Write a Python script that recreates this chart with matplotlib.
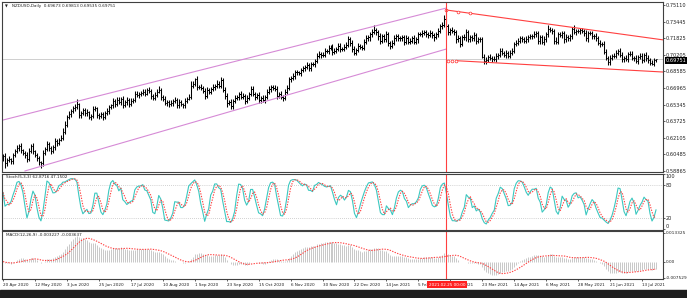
import numpy as np
import pandas as pd
import matplotlib
matplotlib.use("Agg")
import matplotlib.pyplot as plt
from matplotlib.patches import Rectangle

# daily closes, NZDUSD, in pips (x 1e-4), 20 Apr 2020 .. 22 Jul 2021
closes = [
    6030, 5960, 5990, 6000, 5980,
    6040, 6080, 6110, 6130, 6090,
    6060, 6040, 6000, 6080, 6130,
    6080, 6040, 6010, 5970, 5960,
    6060, 6100, 6150, 6110, 6080,
    6120, 6180, 6160, 6190, 6210,
    6270, 6340, 6410, 6440, 6470,
    6500, 6510, 6540, 6430, 6450,
    6480, 6450, 6460, 6410, 6420,
    6490, 6500, 6430, 6420, 6440,
    6410, 6450, 6470, 6510, 6530,
    6570, 6540, 6580, 6560, 6590,
    6530, 6560, 6580, 6540, 6570,
    6580, 6640, 6630, 6640, 6650,
    6660, 6640, 6680, 6670, 6620,
    6600, 6630, 6660, 6680, 6610,
    6590, 6550, 6560, 6540, 6550,
    6570, 6580, 6530, 6560, 6540,
    6530, 6570, 6590, 6610, 6720,
    6740, 6780, 6710, 6710, 6700,
    6670, 6620, 6680, 6660, 6690,
    6710, 6720, 6740, 6720, 6770,
    6680, 6620, 6550, 6560, 6520,
    6570, 6600, 6610, 6640, 6610,
    6620, 6570, 6600, 6640, 6690,
    6640, 6610, 6630, 6580, 6600,
    6580, 6610, 6660, 6690, 6710,
    6700, 6690, 6620, 6640, 6610,
    6600, 6660, 6700, 6780, 6790,
    6810, 6850, 6850, 6840, 6870,
    6890, 6900, 6920, 6890, 6930,
    6930, 6960, 7010, 7030, 7020,
    7020, 7060, 7060, 7090, 7100,
    7050, 7060, 7080, 7110, 7080,
    7080, 7100, 7120, 7170, 7140,
    7080, 7040, 7070, 7110, 7100,
    7090, 7150, 7180, 7190,
    7220, 7240, 7260, 7240, 7200,
    7160, 7200, 7170, 7220, 7140,
    7110, 7140, 7180, 7200, 7180,
    7180, 7190, 7150, 7180, 7150,
    7160, 7180, 7150, 7170, 7220,
    7220, 7230, 7240, 7220, 7210,
    7230, 7210, 7190, 7220, 7250,
    7300, 7310, 7370, 7300, 7240,
    7260, 7250, 7240, 7170, 7180,
    7130, 7190, 7190, 7240, 7170,
    7190, 7180, 7210, 7160, 7170,
    7170, 7000, 6960, 6970, 7000,
    6990, 6980, 6980, 7010, 7020,
    7060, 7040, 7020, 7040, 7010,
    7040, 7060, 7130, 7140, 7160,
    7180, 7170, 7160, 7170, 7190,
    7200, 7200, 7220, 7230, 7160,
    7190, 7150, 7170, 7220, 7270,
    7260, 7250, 7160, 7150, 7220,
    7210, 7230, 7170, 7190, 7180,
    7200, 7270, 7240, 7250, 7250,
    7260, 7250, 7230, 7180, 7230,
    7230, 7200, 7200, 7180, 7140,
    7130, 7130, 7050, 6990, 6950,
    6990, 7010, 7010, 7040, 7060,
    7020, 6980, 6990, 6980, 7030,
    7030, 6990, 6990, 6960, 7000,
    7010, 6970, 7020, 6990, 6970,
    6940, 6930, 6967, 6975,
]
first_open = 6000

# wicks above / below the body, pips
hi_wick = [
    25, 30, 20, 35, 15, 20, 25, 30, 20, 25, 15, 20, 30, 35, 20, 25, 15, 20, 25, 10,
    30, 20, 25, 15, 20, 25, 30, 15, 20, 25, 35, 30, 25, 30, 20, 25, 30, 45, 15, 20,
    25, 20, 30, 15, 25, 30, 20, 15, 20, 25, 20, 25, 30, 20, 15, 25, 20, 30, 25, 20,
    30, 15, 25, 20, 25, 20, 30, 25, 15, 20, 25, 30, 20, 25, 15, 20, 25, 30, 35, 15,
    20, 25, 15, 20, 25, 20, 30, 15, 25, 20, 15, 25, 20, 30, 40, 25, 18, 30, 20, 25,
    20, 30, 25, 20, 15, 25, 20, 30, 25, 30, 20, 25, 30, 20, 25, 20, 25, 15, 20, 25,
    30, 20, 25, 20, 30, 25, 20, 15, 25, 20, 25, 20, 30, 25, 20, 15, 25, 30, 20, 25,
    20, 25, 30, 20, 25, 30, 20, 25, 15, 20, 25, 20, 30, 25, 20, 25, 20, 30, 25, 20,
    25, 30, 20, 25, 20, 30, 25, 20, 30, 25, 20, 25, 30, 35, 20, 25, 30, 20, 25, 15,
    20, 25, 30, 20, 25, 30, 55, 25, 20, 30, 25, 20, 30, 25, 20, 25, 30, 20, 25, 20,
    25, 20, 30, 25, 20, 25, 30, 20, 25, 20, 30, 25, 20, 25, 30, 20, 25, 20, 30, 25,
    30, 40, 95, 20, 25, 30, 20, 25, 30, 20, 25, 30, 35, 20, 25, 20, 30, 25, 20, 25,
    20, 25, 30, 20, 25, 20, 25, 30, 20, 25, 30, 20, 25, 20, 25, 30, 20, 25, 20, 25,
    20, 25, 30, 20, 25, 20, 30, 25, 20, 25, 20, 30, 25, 40, 25, 20, 25, 30, 20, 25,
    20, 25, 30, 20, 25, 20, 46, 25, 20, 25, 20, 25, 30, 20, 25, 20, 25, 30, 20, 25,
    20, 25, 30, 20, 25, 20, 30, 25, 20, 25, 30, 20, 25, 20, 25, 30, 20, 25, 20, 30,
    25, 20, 30, 25, 20, 25, 20, 6,
]
lo_wick = [
    20, 40, 25, 20, 30, 25, 20, 15, 25, 30, 20, 25, 30, 20, 15, 25, 20, 30, 25, 40,
    25, 20, 15, 25, 30, 20, 25, 30, 20, 15, 20, 25, 20, 15, 25, 20, 30, 20, 25, 30,
    20, 25, 30, 20, 25, 20, 15, 30, 25, 20, 25, 20, 15, 25, 20, 30, 25, 20, 15, 25,
    25, 20, 30, 25, 20, 15, 20, 25, 30, 20, 25, 20, 15, 25, 30, 20, 25, 20, 15, 30,
    25, 20, 30, 25, 20, 25, 20, 30, 25, 20, 25, 30, 20, 15, 20, 25, 20, 30, 25, 20,
    25, 30, 20, 25, 20, 25, 30, 20, 25, 20, 25, 30, 35, 20, 30, 25, 20, 25, 30, 20,
    25, 30, 20, 25, 20, 25, 30, 20, 30, 25, 20, 25, 20, 25, 30, 20, 25, 30, 20, 25,
    30, 20, 25, 20, 25, 20, 30, 25, 20, 25, 20, 25, 20, 30, 25, 20, 25, 20, 25, 30,
    25, 20, 25, 30, 20, 35, 25, 20, 25, 30, 25, 20, 25, 20, 30, 35, 25, 20, 25, 20,
    25, 20, 25, 20, 30, 25, 20, 25, 35, 30, 25, 20, 25, 30, 35, 25, 20, 25, 20, 25,
    25, 30, 20, 25, 20, 25, 20, 25, 30, 20, 25, 20, 25, 30, 20, 25, 30, 20, 25, 20,
    25, 20, 10, 30, 25, 20, 25, 30, 25, 30, 20, 25, 30, 20, 25, 20, 25, 30, 20, 25,
    10, 30, 25, 20, 25, 30, 20, 25, 30, 20, 25, 20, 30, 25, 20, 25, 20, 25, 20, 25,
    20, 25, 20, 25, 20, 25, 20, 25, 30, 35, 25, 30, 20, 25, 20, 25, 30, 20, 25, 20,
    25, 30, 20, 25, 20, 25, 20, 25, 20, 25, 20, 25, 20, 30, 20, 25, 30, 20, 25, 30,
    25, 20, 25, 27, 25, 25, 20, 25, 20, 25, 30, 25, 20, 25, 20, 25, 30, 20, 25, 20,
    25, 20, 30, 25, 20, 8, 20, 14,
]

# right axis labels
price_ticks = [0.75110, 0.73445, 0.71825, 0.70205, 0.68585, 0.66965,
               0.65345, 0.63725, 0.62105, 0.60485, 0.58865]
stoch_ticks = [100, 80, 20, 0]
macd_ticks = [0.013325, 0.0, -0.007529]
macd_labels = ["0.013325", "0.00", "-0.007529"]
bid = 0.69751

# drawn objects (bar index, price)
purple_up = ([-1, 222], [0.6379, 0.7477])
purple_dn = ([11, 222], [0.5887, 0.7077])
red_up = ([222, 331], [0.7458, 0.7165])
red_dn = ([227, 331], [0.6963, 0.6852])
red_up_marks = [222, 228, 234]
red_dn_marks = [223, 225, 227]
vline_bar = 222

title = "NZDUSD,Daily  0.69673 0.69813 0.69535 0.69751"
stoch_title = "Stoch(5,3,3) 62.8716 47.1502"
macd_title = "MACD(12,26,9) -0.003227 -0.003637"
vline_label = "2021.02.25 00:00"

# ---- series
n = len(closes)
c = np.array(closes) / 1e4
o = np.r_[first_open / 1e4, c[:-1]]
hi = np.maximum(o, c) + np.array(hi_wick[:n]) / 1e4
lo = np.minimum(o, c) - np.array(lo_wick[:n]) / 1e4
days = pd.bdate_range("2020-04-20", periods=n + 5)
days = days[days != pd.Timestamp("2021-01-01")][:n]
x = np.arange(n)

s_c, s_h, s_l = pd.Series(c), pd.Series(hi), pd.Series(lo)
ll = s_l.rolling(5, min_periods=1).min()
hh = s_h.rolling(5, min_periods=1).max()
k = 100 * (s_c - ll).rolling(3, min_periods=1).sum() / (hh - ll).rolling(3, min_periods=1).sum()
d = k.rolling(3, min_periods=1).mean()

macd = s_c.ewm(span=12, adjust=False).mean() - s_c.ewm(span=26, adjust=False).mean()
sig = macd.rolling(9, min_periods=1).mean()

# ---- figure
W, H = 687, 298
fig = plt.figure(figsize=(W / 100, H / 100), dpi=100)
fig.patch.set_facecolor("white")

def pane(y0, y1, lsize=3.6):
    a = fig.add_axes([2 / W, 1 - y1 / H, (663 - 2) / W, (y1 - y0) / H])
    a.set_xlim(-0.5, 330.5)
    for s in a.spines.values():
        s.set_color("#404040")
        s.set_linewidth(0.8)
    a.yaxis.tick_right()
    a.tick_params(axis="y", length=1.4, width=0.5, pad=0.6, labelsize=lsize, colors="#202020")
    a.tick_params(axis="x", bottom=False, labelbottom=False)
    return a

PX = 0.72  # points per pixel

ax = pane(1.5, 172)
ax.set_ylim(0.58767, 0.75408)
ax.axhline(bid, color="#c8c8c8", lw=0.6, zorder=0)
ax.vlines(x, lo, hi, color="black", lw=1.05 * PX)
ax.hlines(o, x - 0.6, x, color="black", lw=1.0 * PX)
ax.hlines(c, x, x + 0.6, color="black", lw=1.0 * PX)
ax.plot(*purple_up, color="#d68ad6", lw=0.8)
ax.plot(*purple_dn, color="#d68ad6", lw=0.8)
ax.plot(*red_up, color="#ff4040", lw=0.8)
ax.plot(*red_dn, color="#ff4040", lw=0.8)
up_slope = (red_up[1][1] - red_up[1][0]) / (red_up[0][1] - red_up[0][0])
ax.plot(red_up_marks, [red_up[1][0] + up_slope * (b - red_up[0][0]) for b in red_up_marks],
        "o", ms=2.0, mfc="white", mec="#ff3030", mew=0.5)
ax.plot(red_dn_marks, [red_dn[1][0]] * len(red_dn_marks),
        "o", ms=2.0, mfc="white", mec="#ff3030", mew=0.5)
ax.axvline(vline_bar, color="#ff4040", lw=0.8)
ax.set_yticks(price_ticks)
ax.set_yticklabels([f"{v:.5f}" for v in price_ticks])

ax2 = pane(174, 229.5)
ax2.set_ylim(-0.2, 99.8)
for lv in (80, 20):
    ax2.axhline(lv, color="#a8a8a8", lw=0.5, ls=(0, (1, 2)))
ax2.plot(x, k, color="#3cc8c0", lw=0.8)
ax2.plot(x, d, color="#ff4040", lw=0.8, ls=(0, (1.2, 1.2)))
ax2.axvline(vline_bar, color="#ff4040", lw=0.8)
ax2.set_yticks(stoch_ticks)
ax2.set_yticklabels([str(v) for v in stoch_ticks])
lbls = ax2.get_yticklabels()
lbls[0].set_va("top")
lbls[-1].set_va("bottom")

ax3 = pane(231, 279, lsize=3.1)
ax3.set_ylim(-0.008136, 0.014258)
ax3.vlines(x, 0, macd, color="#bcbcbc", lw=0.8 * PX)
ax3.plot(x, sig, color="#ff4040", lw=0.8, ls=(0, (1.2, 1.2)))
ax3.axvline(vline_bar, color="#ff4040", lw=0.8)
ax3.set_yticks(macd_ticks)
ax3.set_yticklabels(macd_labels)

tick_idx = list(range(0, n, 16))
ax3.set_xticks(tick_idx)
ax3.set_xticklabels([f"{days[i].day} {days[i]:%b %Y}" for i in tick_idx], ha="left")
ax3.tick_params(axis="x", bottom=True, labelbottom=True, length=1.6, width=0.5,
                pad=1.2, labelsize=3.0, colors="#202020")

def fpx(px, py):
    return px / W, 1 - py / H

fig.text(*fpx(4.5, 6), "\u25bc", fontsize=2.6, va="center", color="#202020")
fig.text(*fpx(11.5, 6), title, fontsize=3.0, va="center", color="#202020")
fig.text(*fpx(5.5, 177.5), stoch_title, fontsize=3.0, va="center", color="#202020")
fig.text(*fpx(5.5, 235), macd_title, fontsize=3.0, va="center", color="#202020")
fig.text(*fpx(447, 284.5), vline_label, fontsize=3.0, va="center", ha="center",
         color="white", bbox=dict(boxstyle="square,pad=0.35", fc="#ff2020", ec="none"))
fig.text(*fpx(666, 60.3), f"{bid:.5f}", fontsize=3.6, va="center", ha="left",
         color="white", bbox=dict(boxstyle="square,pad=0.15", fc="black", ec="none"))

fig.add_artist(Rectangle((0, 0), 1, 8.5 / H, transform=fig.transFigure,
                         color="#1e1e1e", zorder=0))

fig.savefig("out.png", dpi=100)
